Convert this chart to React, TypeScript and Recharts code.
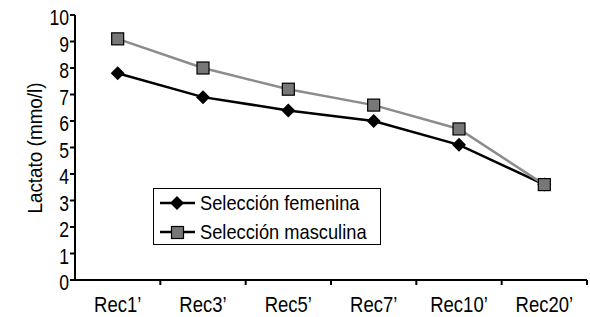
import React from "react";
import { Legend, Line, LineChart, XAxis, YAxis } from "recharts";

const categories = ["Rec1’", "Rec3’", "Rec5’", "Rec7’", "Rec10’", "Rec20’"];
const femenina = [7.8, 6.9, 6.4, 6.0, 5.1, 3.6];
const masculina = [9.1, 8.0, 7.2, 6.6, 5.7, 3.6];
const yTicks = [0, 1, 2, 3, 4, 5, 6, 7, 8, 9, 10];
const seriesNames = ["Selección femenina", "Selección masculina"];
const yTitle = "Lactato (mmo/l)";

const data = categories.map((name, i) => ({
  name,
  femenina: femenina[i],
  masculina: masculina[i]
}));

// no narrow font installed, so squeeze Liberation Sans horizontally
const FONT = "'Liberation Sans', Arial, sans-serif";
const GRAY_LINE = "#8c8c8c";
const GRAY_FILL = "#777777";
const PLOT_LEFT = 75;
const PLOT_RIGHT = 587;
const BAND = (PLOT_RIGHT - PLOT_LEFT) / categories.length;

function Diamond({ cx, cy }: any) {
  if (cx == null || cy == null) return null;
  const r = 7;
  return (
    <polygon
      points={`${cx},${cy - r} ${cx + r},${cy} ${cx},${cy + r} ${cx - r},${cy}`}
      fill="#000"
    />
  );
}

function Square({ cx, cy }: any) {
  if (cx == null || cy == null) return null;
  return (
    <rect x={cx - 6} y={cy - 6} width={12} height={12} fill={GRAY_FILL} stroke="#000" strokeWidth={1.2} />
  );
}

function XTick({ x, y, payload }: any) {
  const edge = x + BAND / 2;
  return (
    <g>
      <line x1={edge} y1={y - 8} x2={edge} y2={y - 3} stroke="#000" strokeWidth={2} />
      <text
        transform={`translate(${x},${y + 24}) scale(0.86,1)`}
        textAnchor="middle"
        fontSize={21.5}
        fontFamily={FONT}
        fill="#000"
      >
        {payload.value}
      </text>
    </g>
  );
}

function YTick({ x, y, payload }: any) {
  return (
    <text
      transform={`translate(${x},${y + 10}) scale(0.8,1)`}
      textAnchor="end"
      fontSize={22}
      fontFamily={FONT}
      fill="#000"
    >
      {payload.value}
    </text>
  );
}

function YTitle() {
  return (
    <text
      transform={`translate(42,148) rotate(-90) scale(0.9,1)`}
      textAnchor="middle"
      fontSize={21}
      fontFamily={FONT}
      fill="#000"
    >
      {yTitle}
    </text>
  );
}

function LegendBox() {
  const rows = [
    { name: seriesNames[0], marker: "diamond" },
    { name: seriesNames[1], marker: "square" }
  ];
  return (
    <div
      style={{
        width: 228,
        height: 57,
        border: "1.5px solid #000",
        boxSizing: "border-box",
        background: "#fff",
        fontFamily: FONT,
        fontSize: 21,
        overflow: "hidden"
      }}
    >
      {rows.map((r, i) => (
        <div
          key={r.name}
          style={{ display: "flex", alignItems: "center", height: 26, marginTop: i === 0 ? 1 : 3, whiteSpace: "nowrap" }}
        >
          <svg width={44} height={20} style={{ flex: "none" }}>
            <line x1={6} y1={10} x2={41} y2={10} stroke="#000" strokeWidth={2.5} />
            {r.marker === "diamond" ? (
              <polygon points="23,3 30,10 23,17 16,10" fill="#000" />
            ) : (
              <rect x={17.5} y={4.5} width={12} height={12} fill={GRAY_FILL} stroke="#000" strokeWidth={1.2} />
            )}
          </svg>
          <span
            style={{
              display: "inline-block",
              marginLeft: 2,
              lineHeight: "26px",
              transform: "scaleX(0.87)",
              transformOrigin: "left center"
            }}
          >
            {r.name}
          </span>
        </div>
      ))}
    </div>
  );
}

export default function App() {
  return (
    <div style={{ position: "absolute", left: 0, top: 0, width: 590, height: 317, background: "#fff" }}>
      <LineChart
        width={590}
        height={317}
        data={data}
        margin={{ top: 15, right: 3, left: 0, bottom: 0 }}
      >
        <XAxis
          dataKey="name"
          height={37}
          padding={{ left: BAND / 2, right: BAND / 2 }}
          axisLine={{ stroke: "#000", strokeWidth: 2 }}
          tickLine={false}
          tick={<XTick />}
          interval={0}
        />
        <YAxis
          width={75}
          domain={[0, 10]}
          ticks={yTicks}
          interval={0}
          axisLine={{ stroke: "#000", strokeWidth: 2 }}
          tickLine={{ stroke: "#000", strokeWidth: 2 }}
          tickSize={5}
          tickMargin={1}
          tick={<YTick />}
          label={{ content: () => <YTitle /> }}
        />
        <Legend
          layout="vertical"
          align="center"
          verticalAlign="middle"
          content={<LegendBox />}
          wrapperStyle={{ left: 153, top: 188, width: 228, height: 57 }}
        />
        <Line
          type="linear"
          dataKey="femenina"
          name={seriesNames[0]}
          stroke="#000"
          strokeWidth={2.5}
          dot={<Diamond />}
          activeDot={false}
          isAnimationActive={false}
        />
        <Line
          type="linear"
          dataKey="masculina"
          name={seriesNames[1]}
          stroke={GRAY_LINE}
          strokeWidth={2.5}
          dot={<Square />}
          activeDot={false}
          isAnimationActive={false}
        />
      </LineChart>
    </div>
  );
}
